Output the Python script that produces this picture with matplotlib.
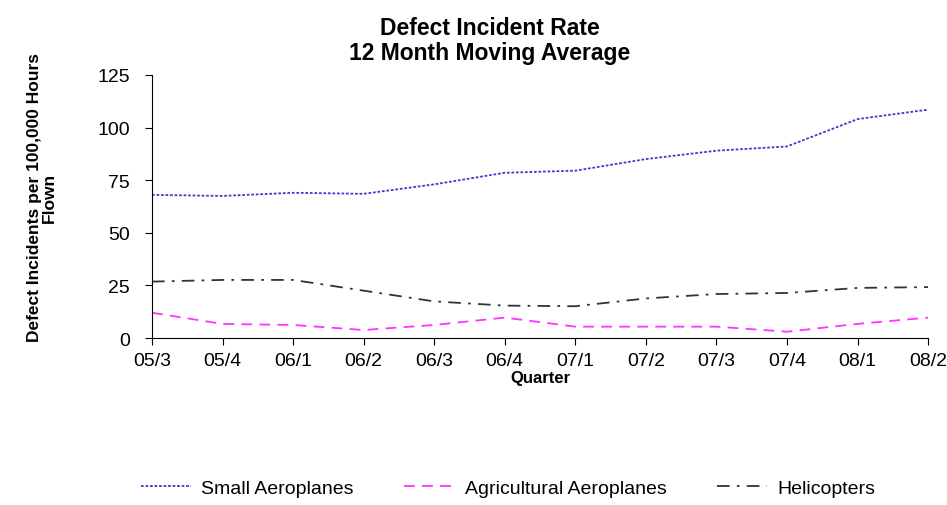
import matplotlib.pyplot as plt
import numpy as np

plt.rcParams['font.family'] = ['Liberation Sans', 'DejaVu Sans']

quarters = ['05/3', '05/4', '06/1', '06/2', '06/3', '06/4',
            '07/1', '07/2', '07/3', '07/4', '08/1', '08/2']
small = [68, 67.5, 69, 68.5, 73, 78.5, 79.5, 85, 89, 91, 104, 108.5]
agri = [12, 6.7, 6.2, 3.8, 6.2, 9.7, 5.4, 5.4, 5.4, 3.0, 6.7, 9.7]
heli = [26.8, 27.6, 27.6, 22.5, 17.4, 15.4, 15.1, 18.8, 20.9, 21.4, 23.8, 24.2]

fig = plt.figure(figsize=(9.47, 5.06), dpi=100)
ax = fig.add_axes([0.1605, 0.33, 0.8195, 0.52])

x = np.arange(len(quarters))
ax.plot(x, small, color='#3a3acc', linestyle=(0, (1.5, 1)), linewidth=1.3, label='Small Aeroplanes')
ax.plot(x, agri, color='#ff33ff', linestyle=(0, (6, 4)), linewidth=1.3, label='Agricultural Aeroplanes')
ax.plot(x, heli, color='#333333', linestyle=(0, (7, 4, 1.5, 4)), linewidth=1.3, label='Helicopters')

ax.set_xlim(0, len(quarters) - 1)
ax.set_ylim(0, 125)
ax.set_yticks([0, 25, 50, 75, 100, 125])
ax.set_xticks(x)
ax.set_xticklabels(quarters)
ax.spines['right'].set_visible(False)
ax.spines['top'].set_visible(False)
ax.tick_params(direction='out', length=5, labelsize=14)
ax.tick_params(axis='x', pad=5)
ax.tick_params(axis='y', pad=11)

fig.text(490 / 947, 1 - 17 / 506, 'Defect Incident Rate\n12 Month Moving Average',
         ha='center', va='top', fontsize=16.5, fontweight='bold', linespacing=1.1)
ax.set_xlabel('Quarter', fontsize=12, fontweight='bold', labelpad=1)
fig.text(42 / 947, 1 - 198 / 506, 'Defect Incidents per 100,000 Hours\nFlown',
         rotation=90, ha='center', va='center', multialignment='center',
         fontsize=12.5, fontweight='bold', linespacing=1.0)

fig.legend(loc='center', bbox_to_anchor=(508 / 947, 0.034), ncol=3, frameon=False,
           fontsize=14, handlelength=2.6, handletextpad=0.5, columnspacing=2.6)

plt.savefig('out.png', dpi=100)
